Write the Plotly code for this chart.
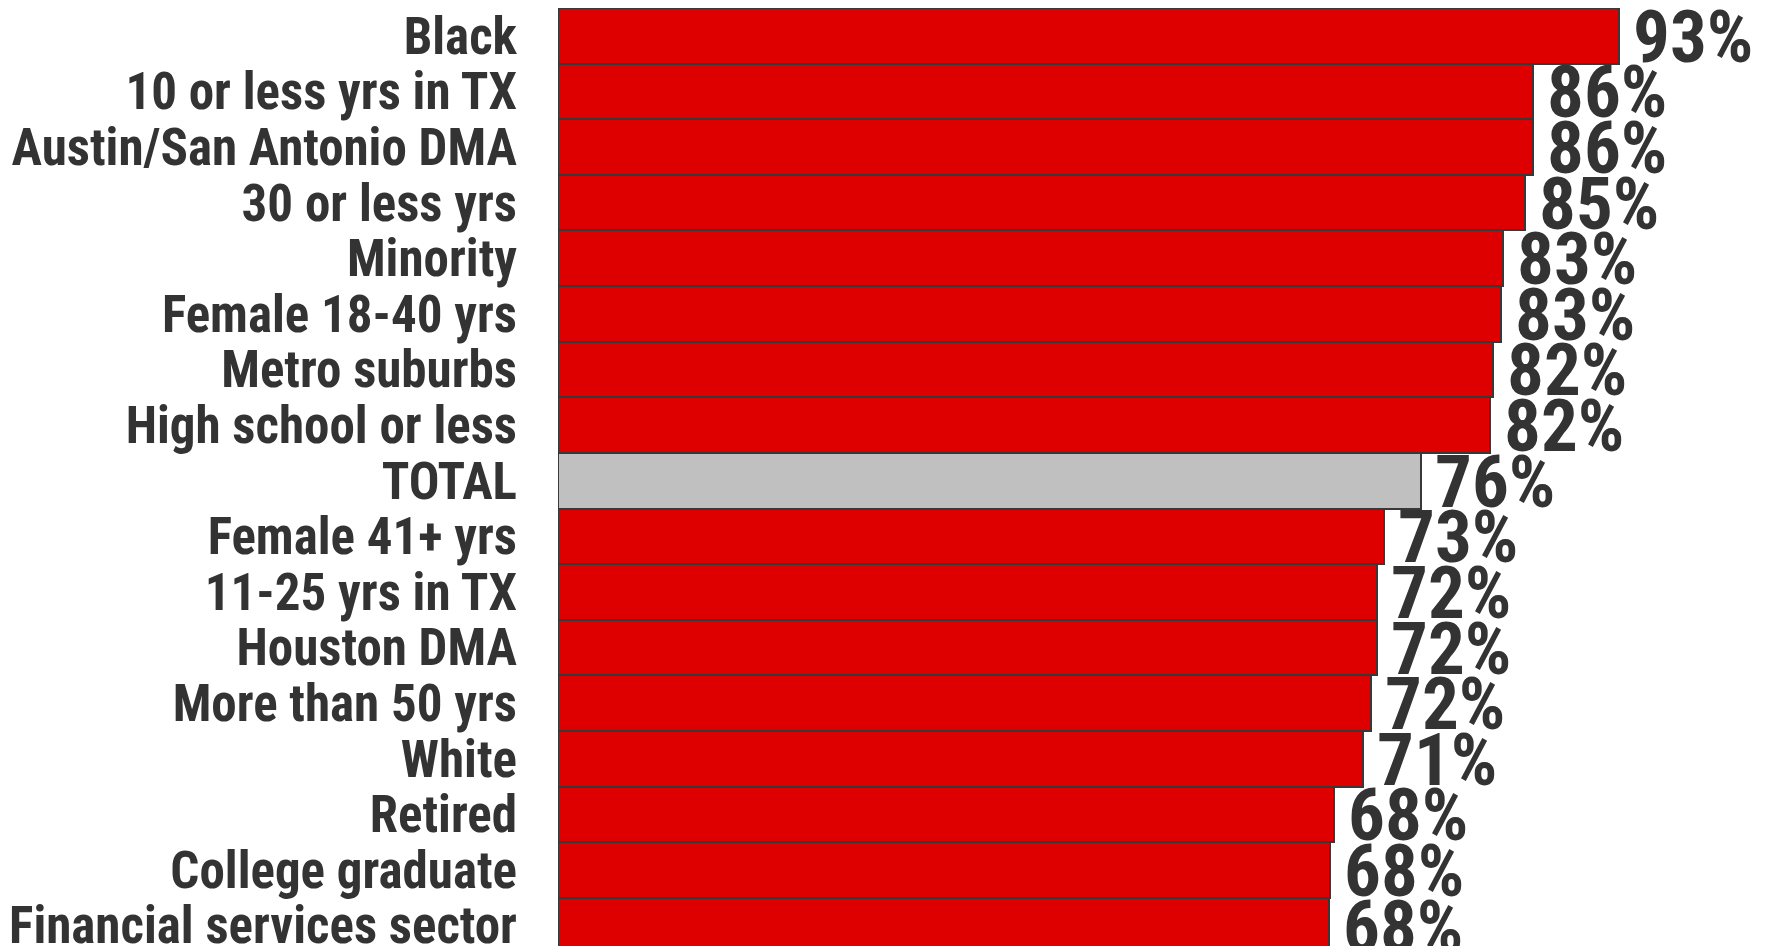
import plotly.graph_objects as go

categories = ["Black", "10 or less yrs in TX", "Austin/San Antonio DMA", "30 or less yrs",
              "Minority", "Female 18-40 yrs", "Metro suburbs", "High school or less",
              "TOTAL", "Female 41+ yrs", "11-25 yrs in TX", "Houston DMA",
              "More than 50 yrs", "White", "Retired", "College graduate",
              "Financial services sector"]
values = [93.3, 85.7, 85.7, 85.0, 83.1, 82.9, 82.2, 82.0, 75.9, 72.6, 72.0, 72.0,
          71.5, 70.8, 68.2, 67.9, 67.8]
labels = ["93%", "86%", "86%", "85%", "83%", "83%", "82%", "82%", "76%", "73%",
          "72%", "72%", "72%", "71%", "68%", "68%", "68%"]
highlight = "TOTAL"

RED = "#DE0000"
GRAY = "#C0C0C0"
TXT = "#333333"
FONT = "Roboto Condensed, Liberation Sans Narrow, Arial Narrow, Liberation Sans, sans-serif"

colors = [GRAY if c == highlight else RED for c in categories]

fig = go.Figure()
fig.add_trace(go.Bar(
    x=values, y=categories, orientation="h",
    marker=dict(color=colors, line=dict(color="#383838", width=2)),
    hoverinfo="skip",
))

for c, v, t in zip(categories, values, labels):
    fig.add_annotation(x=v, y=c, text=f"<b>{t}</b>", showarrow=False,
                       xanchor="left", yanchor="middle", xshift=12, yshift=-1,
                       font=dict(family=FONT, size=73, color=TXT))

fig.update_layout(
    width=1769, height=946,
    margin=dict(l=550, r=0, t=0, b=0),
    paper_bgcolor="white", plot_bgcolor="rgba(0,0,0,0)",
    bargap=0, showlegend=False,
    font=dict(family=FONT, color=TXT),
)
fig.update_xaxes(range=[0, 107.2], visible=False, showgrid=False, zeroline=False,
                 automargin=False)
fig.update_yaxes(
    tickmode="array", tickvals=categories,
    ticktext=[f"<b>{c}</b>" for c in categories],
    range=[16.51, -0.5], automargin=False,
    showgrid=False, zeroline=False, showline=False, ticks="",
    tickfont=dict(family=FONT, size=51, color=TXT),
    ticklabelstandoff=40,
)

fig.write_html("out.html")
